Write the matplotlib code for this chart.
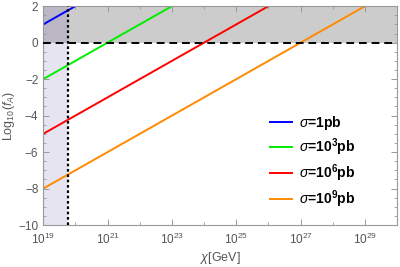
import numpy as np
import matplotlib
matplotlib.use("Agg")
import matplotlib.pyplot as plt

plt.rcParams['font.family'] = ['Liberation Sans', 'DejaVu Sans']
plt.rcParams['mathtext.fontset'] = 'custom'
plt.rcParams['mathtext.rm'] = 'Liberation Sans'
plt.rcParams['mathtext.it'] = 'Liberation Sans:italic'
plt.rcParams['mathtext.bf'] = 'Liberation Sans:bold'

# ==== Data ====
# log10(f_A) = log10(chi) - 19 + offset, one offset per cross section
sigma_labels = [r"$\sigma$=1pb", r"$\sigma$=10$^{\mathbf{3}}$pb",
                r"$\sigma$=10$^{\mathbf{6}}$pb", r"$\sigma$=10$^{\mathbf{9}}$pb"]
offsets = [1, -2, -5, -8]
colors = ["#0000ff", "#00ee00", "#ff0000", "#ff8a00"]
log_chi = np.array([19.0, 30.0])
chi_limit = 6e19          # dotted vertical line
x_ticks = [1e19, 1e21, 1e23, 1e25, 1e27, 1e29]
x_tick_labels = ["$10^{19}$", "$10^{21}$", "$10^{23}$", "$10^{25}$", "$10^{27}$", "$10^{29}$"]
x_minor = [1e20, 1e22, 1e24, 1e26, 1e28]
y_ticks = [-10, -8, -6, -4, -2, 0, 2]

fig = plt.figure(figsize=(4.0, 2.67), dpi=100)
ax = fig.add_axes([0.108, 0.157, 0.885, 0.82])
ax.set_xscale("log")
ax.set_xlim(1e19, 1e30)
ax.set_ylim(-10, 2)

# shaded regions
ax.fill_between([1e19, 1e30], 0, 2, color="#cccccc", lw=0, zorder=0)
ax.fill_between([1e19, chi_limit], -10, 0, color="#e6e4f0", lw=0, zorder=0)
ax.fill_between([1e19, chi_limit], 0, 2, color="#bbb7c5", lw=0, zorder=0)

for lab, off, col in zip(sigma_labels, offsets, colors):
    ax.plot(10 ** log_chi, log_chi - 19 + off, color=col, lw=1.4, label=lab, zorder=2)

ax.axhline(0, color="black", ls=(0, (4, 2.5)), lw=1.4, zorder=3)
ax.axvline(chi_limit, color="black", ls=(0, (1.2, 1.2)), lw=1.6, zorder=3)

# ticks and frame
ax.set_xticks(x_ticks)
ax.set_xticklabels(x_tick_labels)
ax.set_xticks(x_minor, minor=True)
ax.set_xticklabels([], minor=True)
ax.set_yticks(y_ticks)
ax.set_yticklabels([str(v).replace("-", "\u2212") for v in y_ticks])
ax.set_yticks(np.arange(-10, 2.01, 0.5), minor=True)
ax.tick_params(which="both", direction="in", top=True, right=True,
               color="#999999", labelcolor="#555555", labelsize=8.5)
ax.tick_params(which="major", length=4, width=0.7)
ax.tick_params(which="minor", length=2.5, width=0.6)
ax.tick_params(axis="x", pad=5)
for s in ax.spines.values():
    s.set_color("#999999")
    s.set_linewidth(0.8)

ax.set_xlabel(r"$\chi$[GeV]", color="#555555", fontsize=9, labelpad=2)
ax.set_ylabel(r"Log$_{10}$($f_A$)", color="#555555", fontsize=9, labelpad=1)

leg = ax.legend(loc="upper left", bbox_to_anchor=(0.605, 0.565), frameon=False,
                handlelength=1.6, handletextpad=0.5, labelspacing=0.32,
                prop={"weight": "bold", "size": 10})

fig.savefig("out.png", dpi=100)
